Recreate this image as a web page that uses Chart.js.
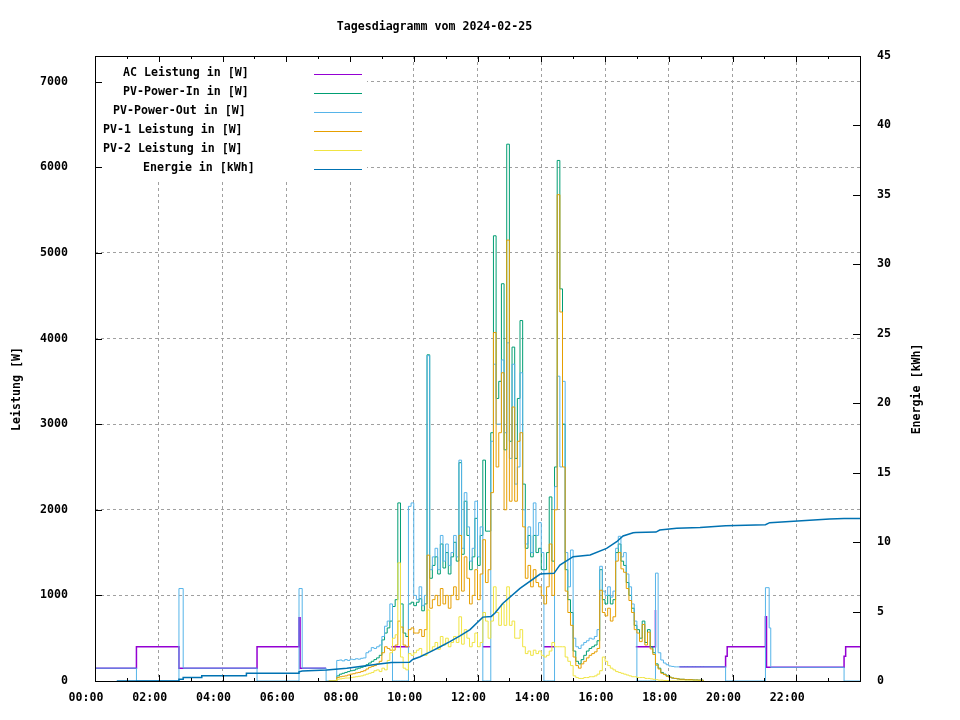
<!DOCTYPE html>
<html>
<head>
<meta charset="utf-8">
<script src="https://cdn.jsdelivr.net/npm/chart.js@4.4.1/dist/chart.umd.min.js"></script>
<style>
  html, body { margin: 0; padding: 0; background: #fff; }
  canvas { display: block; }
</style>
</head>
<body>
<canvas id="chart" width="960" height="720"></canvas>
<script>
const FONT = "'DejaVu Sans Mono', 'Liberation Mono', monospace";

const chartTitle = "Tagesdiagramm vom 2024-02-25";
const leftTitle = "Leistung [W]";
const rightTitle = "Energie [kWh]";

const legendLabels = [
  "AC Leistung in [W]",
  "PV-Power-In in [W]",
  "PV-Power-Out in [W]",
  "PV-1 Leistung in [W]",
  "PV-2 Leistung in [W]",
  "Energie in [kWh]"
];
const colors = ["#9400d3", "#009e73", "#56b4e9", "#e69f00", "#f0e442", "#0072b2"];

// axis ticks (minutes since midnight / W / kWh)
const xTickMinutes = [0, 120, 240, 360, 480, 600, 720, 840, 960, 1080, 1200, 1320];
const xTickLabels = ["00:00", "02:00", "04:00", "06:00", "08:00", "10:00", "12:00", "14:00", "16:00", "18:00", "20:00", "22:00"];
const xMinorMinutes = [60, 180, 300, 420, 540, 660, 780, 900, 1020, 1140, 1260, 1380];
const powerTicks = [0, 1000, 2000, 3000, 4000, 5000, 6000, 7000];
const energyTicks = [0, 5, 10, 15, 20, 25, 30, 35, 40, 45];

// AC Leistung (hidden under PV-Power-Out where null)
const acTimes = [0, 78, 158, 305, 384, 386, 435, 436, 558, 592, 593, 730, 745, 746, 845, 864, 865, 1018, 1054, 1055, 1056, 1100, 1187, 1190, 1262, 1264, 1410, 1413, 1440];
const acValues = [150, 400, 150, 400, 740, 150, 150, null, 400, 400, null, 400, 400, null, 400, 400, null, 400, 400, 830, null, 165, 290, 400, 750, 160, 290, 400, 400];

// PV-Power-Out outside the day grid
const outEarlyTimes = [0, 78, 158, 166, 305, 384, 390, 435];
const outEarly = [150, 0, 1080, 150, 0, 1080, 150, 0];
const outLateTimes = [1187, 1262, 1269, 1272, 1410, 1440];
const outLate = [0, 1090, 620, 160, 0, 0];

// day grid, 5 minute samples 07:20 - 19:05
const dayTimes = [
  440, 445, 450, 455, 460, 465, 470, 475, 480, 485, 490, 495,
  500, 505, 510, 515, 520, 525, 530, 535, 540, 545, 550, 555,
  560, 565, 570, 575, 580, 585, 590, 595, 600, 605, 610, 615,
  620, 625, 630, 635, 640, 645, 650, 655, 660, 665, 670, 675,
  680, 685, 690, 695, 700, 705, 710, 715, 720, 725, 730, 735,
  740, 745, 750, 755, 760, 765, 770, 775, 780, 785, 790, 795,
  800, 805, 810, 815, 820, 825, 830, 835, 840, 845, 850, 855,
  860, 865, 870, 875, 880, 885, 890, 895, 900, 905, 910, 915,
  920, 925, 930, 935, 940, 945, 950, 955, 960, 965, 970, 975,
  980, 985, 990, 995, 1000, 1005, 1010, 1015, 1020, 1025, 1030, 1035,
  1040, 1045, 1050, 1055, 1060, 1065, 1070, 1075, 1080, 1085, 1090, 1095,
  1100, 1105, 1110, 1115, 1120, 1125, 1130, 1135, 1140, 1145
];

const pvOutDay = [
  0, 0, 0, 240, 245, 235, 250, 240, 255, 250, 260, 255,
  265, 270, 330, 350, 390, 380, 400, 420, 520, 640, 700, 900,
  0, 0, 0, 0, 0, 0, 2040, 2080, 1000, 950, 1100, 880,
  1000, 3800, 1300, 1450, 1550, 1300, 1700, 1400, 1600, 1350, 1500, 1700,
  1450, 2580, 1550, 2200, 1800, 1400, 1550, 2100, 1450, 1800, 0, 0,
  0, 2800, 3700, 3000, 3000, 3750, 2900, 3950, 2600, 3700, 2300, 2500,
  3600, 2000, 1600, 1800, 1500, 2080, 1700, 1850, 1500, 0, 0, 0,
  0, 2270, 3560, 2500, 3500, 1500, 1100, 1530, 500, 400, 380, 420,
  450, 470, 500, 490, 520, 600, 1340, 1050, 1000, 1100, 980, 1050,
  1550, 1690, 1450, 1500, 1250, 1100, 900, 700, 0, 0, 0, 0,
  0, 0, 0, 1260, 330, 245, 210, 190, 175, 170, 165, 165,
  165, 165, 165, 165, 165, 165, 165, 165, 165, 165
];

const pvInDay = [
  0, 0, 0, 60, 80, 90, 100, 110, 120, 125, 140, 150,
  160, 170, 190, 210, 230, 250, 270, 300, 480, 560, 620, 700,
  870, 950, 2080, 900, 560, 520, 900, 920, 880, 920, 960, 820,
  900, 3810, 1200, 1350, 1450, 1250, 1600, 1320, 1500, 1250, 1450, 1620,
  1400, 2550, 1480, 2100, 1700, 1300, 1450, 1900, 1350, 1700, 2580, 1750,
  1750, 2900, 5200, 3300, 3500, 4640, 2700, 6270, 2800, 3900, 2600, 3300,
  4210, 2300, 1550, 1700, 1450, 1700, 1500, 1550, 1300, 1300, 1500, 2150,
  1400, 2500, 6080, 4580, 3000, 1300, 950, 800, 350, 230, 200, 250,
  300, 350, 380, 400, 420, 470, 1300, 950, 900, 1000, 900, 950,
  1500, 1600, 1400, 1350, 1150, 1000, 850, 650, 600, 500, 700, 450,
  600, 400, 330, 200, 150, 100, 80, 60, 45, 35, 30, 25,
  20, 20, 15, 15, 15, 12, 12, 10, 10, 0
];

const pv1Day = [
  0, 0, 0, 40, 50, 55, 60, 70, 80, 85, 95, 100,
  110, 120, 140, 160, 170, 180, 200, 230, 330, 400, 380, 360,
  360, 420, 700, 630, 420, 400, 600, 620, 560, 560, 600, 520,
  600, 1470, 850, 950, 1000, 880, 1080, 900, 1000, 850, 1000, 1100,
  950, 1700, 1050, 1450, 1200, 900, 1000, 1300, 950, 1250, 1650, 1150,
  1300, 2200, 4070, 2500, 2900, 3600, 2000, 5150, 2100, 3200, 2100, 2800,
  2900, 1800, 1200, 1350, 1100, 1300, 1150, 1100, 1000, 900, 1100, 1600,
  1000, 2000, 5680, 4310, 2500, 1050, 800, 650, 280, 180, 150, 200,
  230, 270, 300, 320, 340, 380, 1060, 800, 760, 850, 700, 750,
  1400, 1500, 1310, 1270, 1080, 940, 800, 600, 560, 460, 660, 420,
  570, 375, 310, 185, 140, 90, 75, 55, 45, 35, 30, 25,
  20, 20, 15, 15, 15, 12, 12, 10, 10, 0
];

const pv2Day = [
  0, 0, 0, 20, 25, 30, 35, 35, 40, 45, 50, 55,
  60, 70, 80, 90, 100, 120, 130, 110, 150, 130, 240, 330,
  500, 540, 1380, 280, 150, 130, 320, 300, 330, 360, 380, 300,
  300, 830, 350, 400, 450, 370, 520, 420, 500, 400, 450, 520,
  450, 750, 430, 600, 500, 400, 450, 560, 400, 450, 800, 700,
  500, 700, 1100, 800, 650, 900, 650, 1100, 650, 700, 500, 500,
  600, 400, 320, 350, 300, 360, 320, 350, 300, 280, 300, 350,
  450, 400, 400, 400, 400, 280, 230, 180, 60, 40, 30, 30,
  40, 40, 50, 50, 60, 80, 120, 280, 230, 180, 150, 130,
  110, 100, 90, 80, 70, 60, 50, 50, 40, 40, 40, 30,
  30, 25, 20, 15, 10, 10, 5, 5, 0, 0, 0, 0,
  0, 0, 0, 0, 0, 0, 0, 0, 0, 0
];

// Energie (kWh, right axis)
const energyTimes = [41, 158, 158, 166, 166, 201, 201, 285, 285, 384, 384, 390, 436, 474, 499, 531, 558, 592, 598, 612, 631, 649, 668, 687, 706, 730, 746, 753, 768, 800, 838, 845, 864, 875, 900, 932, 963, 982, 994, 1013, 1018, 1056, 1063, 1095, 1139, 1187, 1262, 1270, 1383, 1410, 1440];
const energyValues = [0, 0, 0.12, 0.12, 0.26, 0.26, 0.38, 0.38, 0.55, 0.55, 0.66, 0.72, 0.8, 0.92, 1.05, 1.2, 1.33, 1.35, 1.55, 1.75, 2.1, 2.45, 2.83, 3.25, 3.7, 4.6, 4.65, 4.9, 5.6, 6.67, 7.7, 7.72, 7.75, 8.35, 8.95, 9.07, 9.55, 10.03, 10.44, 10.68, 10.7, 10.72, 10.87, 10.99, 11.06, 11.18, 11.25, 11.4, 11.66, 11.7, 11.7];

function points(times, values) {
  return times.map((t, i) => ({ x: t, y: values[i] }));
}

function line(i, data, opts) {
  return Object.assign({
    label: legendLabels[i],
    data,
    borderColor: colors[i],
    borderWidth: 1,
    stepped: true,
    spanGaps: false,
    fill: false,
    pointRadius: 0,
    yAxisID: "y"
  }, opts);
}

// gnuplot look: opaque key, full border, inward tics, titles
const gnuplotFrame = {
  id: "gnuplotFrame",
  afterDatasetsDraw(chart) {
    const { ctx, chartArea: a, scales } = chart;
    ctx.save();

    ctx.fillStyle = "#fff";
    ctx.fillRect(a.left + 1, a.top + 1, 271, 122);

    ctx.strokeStyle = "#000";
    ctx.lineWidth = 1;
    ctx.strokeRect(a.left + 0.5, a.top + 0.5, a.right - a.left, a.bottom - a.top);

    ctx.beginPath();
    powerTicks.forEach(v => {
      const y = Math.round(scales.y.getPixelForValue(v)) + 0.5;
      ctx.moveTo(a.left, y); ctx.lineTo(a.left + 7, y);
    });
    energyTicks.forEach(v => {
      const y = Math.round(scales.y2.getPixelForValue(v)) + 0.5;
      ctx.moveTo(a.right, y); ctx.lineTo(a.right - 7, y);
    });
    xTickMinutes.forEach(v => {
      const x = Math.round(scales.x.getPixelForValue(v)) + 0.5;
      ctx.moveTo(x, a.bottom); ctx.lineTo(x, a.bottom - 6);
      ctx.moveTo(x, a.top); ctx.lineTo(x, a.top + 6);
    });
    xMinorMinutes.forEach(v => {
      const x = Math.round(scales.x.getPixelForValue(v)) + 0.5;
      ctx.moveTo(x, a.bottom); ctx.lineTo(x, a.bottom - 3);
      ctx.moveTo(x, a.top); ctx.lineTo(x, a.top + 3);
    });
    ctx.stroke();

    ctx.font = `bold 11.6px ${FONT}`;
    ctx.textBaseline = "middle";
    ctx.textAlign = "left";
    legendLabels.forEach((label, i) => {
      ctx.fillStyle = "#000";
      ctx.fillText(label, 303 - 10 * label.length, 73 + 19 * i);
      ctx.strokeStyle = colors[i];
      ctx.beginPath();
      ctx.moveTo(314, 74.5 + 19 * i);
      ctx.lineTo(362, 74.5 + 19 * i);
      ctx.stroke();
    });

    ctx.fillStyle = "#000";
    ctx.textAlign = "center";
    ctx.fillText(chartTitle, 434.5, 27);

    ctx.translate(17, 389);
    ctx.rotate(-Math.PI / 2);
    ctx.fillText(leftTitle, 0, 0);
    ctx.setTransform(1, 0, 0, 1, 0, 0);
    ctx.translate(917, 389);
    ctx.rotate(-Math.PI / 2);
    ctx.fillText(rightTitle, 0, 0);

    ctx.restore();
  }
};

const tickFont = { family: FONT, size: 11.6, weight: "bold" };

new Chart(document.getElementById("chart"), {
  type: "line",
  data: {
    datasets: [
      line(0, points(acTimes, acValues), { order: 6, borderWidth: 1.5 }),
      line(1, points(dayTimes, pvInDay), { order: 5 }),
      line(2, points(outEarlyTimes.concat(dayTimes, outLateTimes), outEarly.concat(pvOutDay, outLate)), { order: 4 }),
      line(3, points(dayTimes, pv1Day), { order: 3 }),
      line(4, points(dayTimes, pv2Day), { order: 2 }),
      line(5, points(energyTimes, energyValues), { order: 1, yAxisID: "y2", stepped: false, borderWidth: 1.5 })
    ]
  },
  options: {
    responsive: false,
    animation: false,
    devicePixelRatio: 1,
    layout: { padding: { top: 56, left: 0, right: 0, bottom: 0 } },
    plugins: {
      legend: { display: false },
      tooltip: { enabled: false },
      title: { display: false }
    },
    scales: {
      x: {
        type: "linear",
        min: 0,
        max: 1440,
        afterBuildTicks: s => { s.ticks = xTickMinutes.map(v => ({ value: v })); },
        afterFit: s => { s.height = 39; },
        grid: { color: "#a0a0a0", lineWidth: 1, drawTicks: false },
        border: { display: false, dash: [3, 3] },
        ticks: {
          font: tickFont,
          color: "#000",
          padding: 10,
          labelOffset: -9,
          maxRotation: 0,
          autoSkip: false,
          callback: (v, i) => xTickLabels[i]
        }
      },
      y: {
        position: "left",
        min: 0,
        max: 7300,
        afterBuildTicks: s => { s.ticks = powerTicks.map(v => ({ value: v })); },
        afterFit: s => { s.width = 95; },
        grid: { color: "#a0a0a0", lineWidth: 1, drawTicks: false },
        border: { display: false, dash: [3, 3] },
        ticks: { font: tickFont, color: "#000", padding: 27, callback: v => String(v) }
      },
      y2: {
        position: "right",
        min: 0,
        max: 45,
        afterBuildTicks: s => { s.ticks = energyTicks.map(v => ({ value: v })); },
        afterFit: s => { s.width = 100; },
        grid: { display: false, drawTicks: false },
        border: { display: false },
        ticks: { font: tickFont, color: "#000", padding: 17, callback: v => String(v) }
      }
    }
  },
  plugins: [gnuplotFrame]
});
</script>
</body>
</html>
